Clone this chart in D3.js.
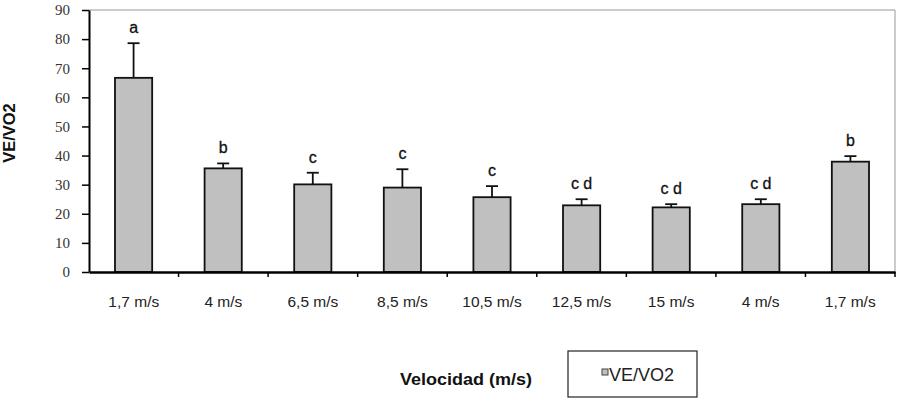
<!DOCTYPE html>
<html><head><meta charset="utf-8">
<script src="https://cdn.jsdelivr.net/npm/d3@7"></script>
<style>body{margin:0;background:#fff}</style></head>
<body><svg id="c" width="907" height="406"></svg>
<script>
const categories = ["1,7 m/s","4 m/s","6,5 m/s","8,5 m/s","10,5 m/s","12,5 m/s","15 m/s","4 m/s","1,7 m/s"];
const values = [66.7, 35.6, 30.1, 29.0, 25.7, 22.9, 22.2, 23.3, 37.9];
const errors = [11.9, 1.7, 4.0, 6.3, 3.8, 2.1, 1.1, 1.7, 1.9];
const letters = ["a","b","c","c","c","c d","c d","c d","b"];
const yTicks = [0,10,20,30,40,50,60,70,80,90];

const svg = d3.select("#c");
const L = 89, R = 895, T = 10, B = 272;
const x = d3.scaleBand().domain(d3.range(categories.length)).range([L, R]).paddingInner(0.585).paddingOuter(0.29);
const xc = d3.scaleBand().domain(d3.range(categories.length)).range([L, R]);
const y = d3.scaleLinear().domain([0, 90]).range([B, T]);
const sans = "Liberation Sans, Arial, sans-serif";

// frame top/right
svg.append("line").attr("x1", L).attr("x2", R).attr("y1", T).attr("y2", T).attr("stroke", "#999").attr("stroke-width", 1);
svg.append("line").attr("x1", R).attr("x2", R).attr("y1", T).attr("y2", B).attr("stroke", "#999").attr("stroke-width", 1);

// y axis
const ya = svg.append("g").attr("transform", `translate(${L},0)`)
  .call(d3.axisLeft(y).tickValues(yTicks).tickSize(7).tickSizeOuter(0));
ya.select(".domain").attr("stroke", "#000").attr("stroke-width", 2);
ya.selectAll(".tick line").attr("stroke", "#000").attr("stroke-width", 1.5);
ya.selectAll(".tick text").attr("x", -19).attr("font-family", "Liberation Serif, serif").attr("font-size", 15).attr("fill", "#333");

// bars
svg.append("g").selectAll("rect").data(values).join("rect")
  .attr("x", (d, i) => x(i)).attr("width", x.bandwidth())
  .attr("y", d => y(d)).attr("height", d => B - y(d))
  .attr("fill", "#c0c0c0").attr("stroke", "#111").attr("stroke-width", 1.8);

// error bars
const eg = svg.append("g").attr("stroke", "#111").attr("stroke-width", 1.8);
values.forEach((v, i) => {
  const cx = x(i) + x.bandwidth() / 2;
  eg.append("line").attr("x1", cx).attr("x2", cx).attr("y1", y(v)).attr("y2", y(v + errors[i]));
  eg.append("line").attr("x1", cx - 6).attr("x2", cx + 6).attr("y1", y(v + errors[i])).attr("y2", y(v + errors[i]));
});

// letters
svg.append("g").selectAll("text").data(letters).join("text")
  .attr("x", (d, i) => x(i) + x.bandwidth() / 2)
  .attr("y", (d, i) => y(values[i] + errors[i]) - 10)
  .attr("text-anchor", "middle").attr("font-family", sans)
  .attr("font-size", 16).attr("fill", "#111").attr("stroke", "#111").attr("stroke-width", 0.3).text(d => d);

// x axis
const xa = svg.append("g").attr("transform", `translate(0,${B})`)
  .call(d3.axisBottom(xc).tickSize(0).tickFormat(i => categories[i]));
xa.select(".domain").attr("stroke", "#000").attr("stroke-width", 2.5);
xa.selectAll(".tick text").attr("y", 24).attr("font-family", sans).attr("font-size", 15.5).attr("fill", "#222");
svg.append("g").selectAll("line").data(d3.range(1, categories.length + 1)).join("line")
  .attr("x1", i => L + i * xc.bandwidth()).attr("x2", i => L + i * xc.bandwidth())
  .attr("y1", B).attr("y2", B + 5).attr("stroke", "#000").attr("stroke-width", 1.5);

// axis titles
svg.append("text").attr("transform", "translate(15,133) rotate(-90)").attr("text-anchor", "middle")
  .attr("font-family", sans).attr("font-weight", "bold").attr("font-size", 16.5).attr("fill", "#111").text("VE/VO2");
svg.append("text").attr("x", 466).attr("y", 385).attr("text-anchor", "middle")
  .attr("font-family", sans).attr("font-weight", "bold").attr("font-size", 16.5)
  .attr("textLength", 132).attr("lengthAdjust", "spacingAndGlyphs").attr("fill", "#111").text("Velocidad (m/s)");

// legend
const lg = svg.append("g");
lg.append("rect").attr("x", 568).attr("y", 351).attr("width", 129).attr("height", 46).attr("fill", "#fff").attr("stroke", "#222").attr("stroke-width", 1.2);
lg.append("rect").attr("x", 602).attr("y", 369).attr("width", 6).attr("height", 6).attr("fill", "#c0c0c0").attr("stroke", "#444").attr("stroke-width", 1);
lg.append("text").attr("x", 609).attr("y", 381).attr("font-family", sans).attr("font-size", 18).attr("fill", "#222").text("VE/VO2");
</script></body></html>
